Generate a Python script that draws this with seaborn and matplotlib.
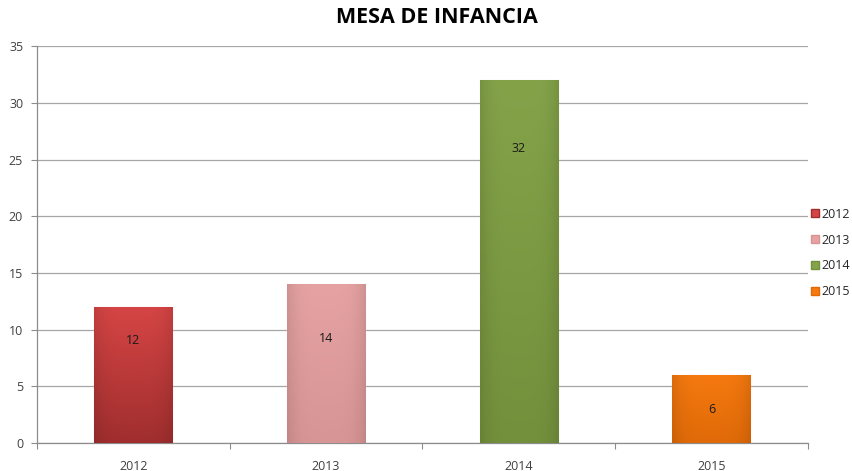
import numpy as np
import pandas as pd
import matplotlib
matplotlib.use("Agg")
import matplotlib.pyplot as plt
import matplotlib.colors as mcolors
import seaborn as sns
from matplotlib.lines import Line2D

years = ["2012", "2013", "2014", "2015"]
values = [12, 14, 32, 6]
colors = ["#D64545", "#E6A2A2", "#84A349", "#F5790F"]
dark_colors = ["#A02E2E", "#D89595", "#73903C", "#E06A08"]
label_offsets_px = [34, 54, 68, 35]

sns.set_theme(style="white")
plt.rcParams['font.family'] = ['Open Sans', 'DejaVu Sans']

df = pd.DataFrame({"year": years, "value": values})

fig = plt.figure(figsize=(8.53, 4.71), dpi=100)
ax = fig.add_axes([0.0434, 0.0594, 0.9036, 0.8426])

sns.barplot(data=df, x="year", y="value", hue="year", palette=colors,
            width=0.405, legend=False, ax=ax, saturation=1, zorder=3)

ax.set_ylim(0, 35)
ax.set_xlim(-0.5, 3.5)
ax.set_yticks(range(0, 36, 5))
ax.yaxis.grid(True, color="#A6A6A6", linewidth=0.9, zorder=0)
ax.set_axisbelow(True)
ax.set_xlabel("")
ax.set_ylabel("")
for s in ["top", "right"]:
    ax.spines[s].set_visible(False)
for s in ["left", "bottom"]:
    ax.spines[s].set_color("#8C8C8C")
    ax.spines[s].set_linewidth(0.9)

ax.tick_params(axis="y", left=True, length=4, width=0.8, color="#8C8C8C",
               labelsize=9, labelcolor="#404040", pad=6)
ax.tick_params(axis="x", bottom=False, labelsize=9, labelcolor="#404040", pad=6)
ax.set_xticks(range(4), years)
ax.set_xticks([-0.5, 0.5, 1.5, 2.5, 3.5], minor=True)
ax.tick_params(axis="x", which="minor", bottom=True, length=4, width=0.8, color="#8C8C8C")

# gradient fill for bars
patches = list(ax.patches)
for p, c, d in zip(patches, colors, dark_colors):
    x0, y0 = p.get_x(), p.get_y()
    w, h = p.get_width(), p.get_height()
    c1 = np.array(mcolors.to_rgb(c))
    c0 = np.array(mcolors.to_rgb(d))
    n = 256
    t = np.linspace(0, 1, n)[:, None]
    grad = c0 * (1 - t) + c1 * t  # bottom dark -> top light
    u = np.linspace(0, 1, 64)[None, :]
    shade = 1 - 0.10 * (np.abs(u - 0.5) * 2) ** 4
    img = grad[:, None, :] * shade[:, :, None]
    img = np.clip(img, 0, 1)
    im = ax.imshow(img, extent=[x0, x0 + w, y0, y0 + h], origin="lower",
                   aspect="auto", zorder=3.5, interpolation="bilinear")
    im.set_clip_path(p)
    p.set_edgecolor(mcolors.to_hex(np.clip(c1 * 0.5 + 0.5, 0, 1)))
    p.set_linewidth(0.8)
ax.set_xlim(-0.5, 3.5)
ax.set_ylim(0, 35)

for i, (v, off) in enumerate(zip(values, label_offsets_px)):
    ax.annotate(str(v), xy=(i, v), xytext=(0, -off), textcoords="offset pixels",
                ha="center", va="center", fontsize=9, color="#1A1A1A", zorder=6)

handles = [Line2D([0], [0], marker="s", linestyle="", markersize=6,
                  markerfacecolor=c, markeredgecolor=d) for c, d in zip(colors, dark_colors)]
fig.legend(handles, years, loc="center left", bbox_to_anchor=(0.948, 0.463),
           frameon=False, fontsize=9, handletextpad=0.05, labelspacing=1.02,
           handlelength=1.0, borderaxespad=0, borderpad=0)

fig.text(0.512, 0.962, "MESA DE INFANCIA", ha="center", va="center",
         fontsize=15.5, fontweight="bold", color="#000000")

fig.savefig("out.png", dpi=100)
